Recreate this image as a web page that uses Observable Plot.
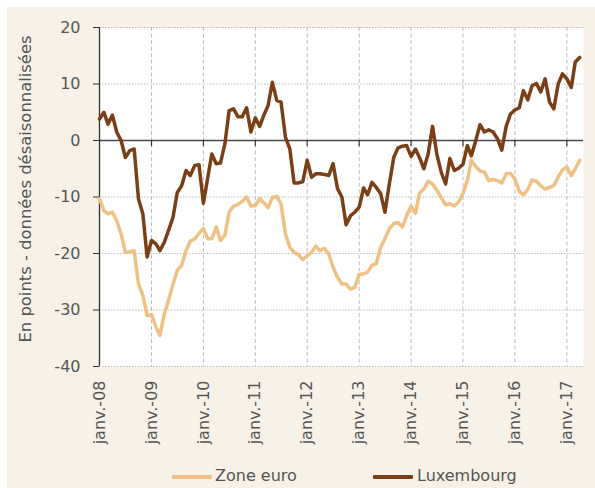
<!DOCTYPE html>
<html>
<head>
<meta charset="utf-8">
<script src="https://cdn.jsdelivr.net/npm/d3@7"></script>
<script src="https://cdn.jsdelivr.net/npm/@observablehq/plot@0.6"></script>
<style>
  html, body { margin: 0; padding: 0; background: #ffffff; }
  body { width: 595px; height: 488px; position: relative; overflow: hidden; font-family: "DejaVu Sans", sans-serif; }
  #panel { position: absolute; left: 7px; top: 7px; width: 588px; height: 481px; background: #f8f1e7; }
  #chart { position: absolute; left: 0; top: 0; }
  .lg-swatch { position: absolute; height: 4px; width: 40px; border-radius: 1px; }
  .lg-text { position: absolute; font-size: 16px; color: #555; line-height: 20px; white-space: nowrap; }
</style>
</head>
<body>
<div id="panel">
  <div id="chart"></div>
</div>
<script>
// Monthly series, starting janv. 2008 (one value per month)
const startYear = 2008;
const zoneEuro = [
  -10.3,-12.4,-13.0,-12.7,-14.2,-16.5,-19.8,-19.7,-19.5,-25.4,
  -27.4,-31.0,-30.8,-33.0,-34.5,-30.7,-28.3,-25.4,-23.0,-22.1,
  -19.5,-17.8,-17.4,-16.5,-15.6,-17.4,-17.4,-15.3,-17.7,-16.8,
  -12.7,-11.6,-11.3,-10.8,-10.0,-11.6,-11.5,-10.3,-11.0,-11.9,
  -10.1,-9.9,-11.2,-16.5,-18.9,-19.8,-20.2,-21.1,-20.4,-19.8,
  -18.7,-19.5,-19.1,-20.1,-22.4,-24.2,-25.4,-25.4,-26.3,-26.0,
  -23.7,-23.6,-23.3,-22.1,-21.8,-18.9,-17.4,-15.6,-14.7,-14.5,
  -15.3,-13.3,-11.6,-12.9,-9.3,-8.6,-7.2,-7.7,-8.8,-10.1,
  -11.4,-11.2,-11.6,-10.9,-9.4,-7.1,-3.5,-4.6,-5.4,-5.6,
  -7.1,-6.9,-7.1,-7.5,-5.9,-5.8,-6.8,-9.0,-9.6,-8.7,
  -7.0,-7.2,-8.0,-8.6,-8.3,-8.0,-6.5,-5.2,-4.7,-6.2,
  -5.0,-3.5
];
const luxembourg = [
  3.8,5.0,2.9,4.5,1.5,0.0,-3.0,-1.8,-1.5,-10.3,
  -13.0,-20.6,-17.7,-18.3,-19.5,-18.0,-15.9,-13.6,-9.2,-8.0,
  -5.3,-6.2,-4.4,-4.3,-11.1,-6.5,-2.4,-4.1,-4.0,-0.6,
  5.3,5.6,4.2,4.2,5.8,1.5,4.0,2.5,4.4,6.2,
  10.3,7.1,6.8,0.6,-1.5,-7.5,-7.5,-7.3,-3.5,-6.5,
  -5.9,-5.9,-6.0,-6.2,-4.1,-8.5,-10.0,-14.9,-13.3,-12.7,
  -11.8,-8.4,-9.6,-7.4,-8.3,-9.4,-12.7,-7.7,-3.0,-1.3,
  -1.0,-0.9,-2.8,-1.5,-3.0,-5.0,-2.4,2.5,-2.4,-5.6,
  -7.7,-3.2,-5.3,-4.9,-4.2,-0.9,-2.7,0.0,2.8,1.5,
  1.9,1.5,0.3,-1.7,2.5,4.7,5.4,5.8,8.8,7.2,
  9.7,10.1,8.6,10.9,6.8,5.6,10.0,11.8,10.9,9.4,
  13.9,14.7
];
const seriesNames = ["Zone euro", "Luxembourg"];
const seriesColors = ["#efc185", "#7a3f16"];
const yTicks = [-40, -30, -20, -10, 0, 10, 20];
const yGrid = [-40, -30, -20, -10, 10, 20];
const tickYears = [2008, 2009, 2010, 2011, 2012, 2013, 2014, 2015, 2016, 2017];
const yLabel = "En points - données désaisonnalisées";

const monthDate = (i) => new Date(Date.UTC(startYear, i, 1));
const dates = zoneEuro.map((_, i) => monthDate(i));
const euroData = zoneEuro.map((v, i) => ({date: dates[i], value: v}));
const luxData = luxembourg.map((v, i) => ({date: dates[i], value: v}));
const yearDates = tickYears.map(y => new Date(Date.UTC(y, 0, 1)));
const innerYearDates = yearDates.slice(1);
const xStart = new Date(Date.UTC(2008, 0, 1));
const xEnd = new Date(Date.UTC(2017, 3, 28));

const chart = Plot.plot({
  width: 588,
  height: 440,
  marginLeft: 92,
  marginRight: 12,
  marginTop: 20,
  marginBottom: 81,
  style: {background: "transparent", fontFamily: "DejaVu Sans, sans-serif", fontSize: "16px", color: "#555"},
  x: {type: "utc", domain: [xStart, xEnd]},
  y: {domain: [-40, 20]},
  marks: [
    Plot.frame({fill: "white", stroke: "none"}),
    Plot.ruleY(yGrid, {stroke: "#bdbdbd", strokeWidth: 1, strokeDasharray: "1.5,1.5"}),
    Plot.ruleX(innerYearDates, {stroke: "#bdbdbd", strokeWidth: 1, strokeDasharray: "4,2.5"}),
    Plot.ruleY([0], {stroke: "#4a4a4a", strokeWidth: 1.4}),
    Plot.ruleX(innerYearDates, {y1: 0, y2: 0, insetBottom: -6, stroke: "#333", strokeWidth: 1.2}),
    Plot.ruleX([xStart], {stroke: "#333", strokeWidth: 1.3}),
    Plot.axisY({ticks: yTicks, tickSize: 6, tickPadding: 13, tickFormat: d => String(d), fontSize: 16, stroke: "#333", fill: "#555", label: null}),
    Plot.axisX({ticks: yearDates, tickSize: 0, tickPadding: 14, tickRotate: -90, fontSize: 16, fill: "#555",
      tickFormat: d => "janv.-" + String(d.getUTCFullYear()).slice(2), label: null}),
    Plot.text([yLabel], {text: d => d, frameAnchor: "left", textAnchor: "middle", rotate: -90, dx: -74, dy: -8, fontSize: 16.4, fill: "#555"}),
    Plot.lineY(euroData, {x: "date", y: "value", stroke: seriesColors[0], strokeWidth: 3.5, strokeLinejoin: "round"}),
    Plot.lineY(luxData, {x: "date", y: "value", stroke: seriesColors[1], strokeWidth: 3.5, strokeLinejoin: "round"})
  ]
});
document.getElementById("chart").appendChild(chart);

// Legend (HTML, below the SVG)
const legendPos = [{sw: 165, tx: 208}, {sw: 366, tx: 410}];
const panel = document.getElementById("panel");
seriesNames.forEach((name, i) => {
  const sw = document.createElement("div");
  sw.className = "lg-swatch";
  sw.style.left = legendPos[i].sw + "px";
  sw.style.top = "467.5px";
  sw.style.background = seriesColors[i];
  panel.appendChild(sw);
  const tx = document.createElement("div");
  tx.className = "lg-text";
  tx.style.left = legendPos[i].tx + "px";
  tx.style.top = "459px";
  tx.textContent = name;
  panel.appendChild(tx);
});
</script>
</body>
</html>
